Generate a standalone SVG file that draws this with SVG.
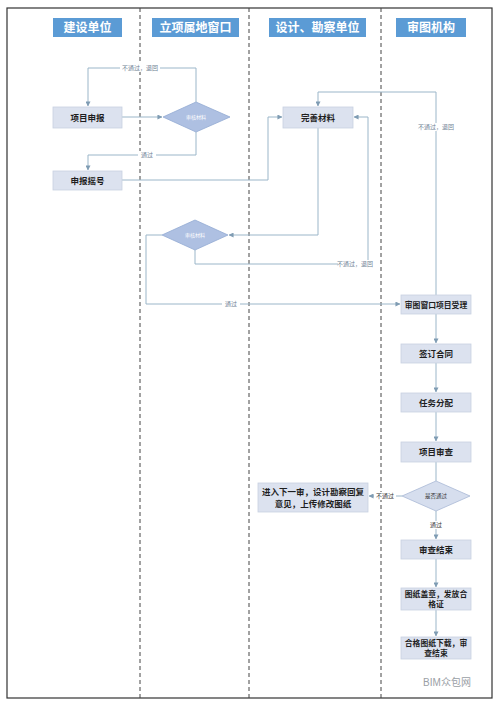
<svg xmlns="http://www.w3.org/2000/svg" width="499" height="704" viewBox="0 0 499 704">
<style>
.hdr{fill:#5b9bd5}
.ht{font-family:"Noto Sans CJK SC","Liberation Sans",sans-serif;font-size:12px;font-weight:bold;fill:#fff;text-anchor:middle}
.box{fill:#dce2ef;stroke:#c9d1e1;stroke-width:0.8}
.bt{font-family:"Noto Sans CJK SC","Liberation Sans",sans-serif;font-size:8.5px;font-weight:bold;fill:#1e1e1e;text-anchor:middle}
.bs{font-family:"Noto Sans CJK SC","Liberation Sans",sans-serif;font-size:7.8px;font-weight:bold;fill:#1e1e1e;text-anchor:middle}
.dia{fill:#aec0e2;stroke:#93abd3;stroke-width:0.8}
.dt{font-family:"Noto Sans CJK SC","Liberation Sans",sans-serif;font-size:5px;fill:#fff;text-anchor:middle}
.dt2{font-family:"Noto Sans CJK SC","Liberation Sans",sans-serif;font-size:5.5px;fill:#333;text-anchor:middle}
.lane{stroke:#444;stroke-width:1;stroke-dasharray:4,3}
.c{fill:none;stroke:#9bb6c9;stroke-width:1}
.lb{font-family:"Noto Sans CJK SC","Liberation Sans",sans-serif;font-size:6px;fill:#6e8294;text-anchor:middle}
.lbd{font-family:"Noto Sans CJK SC","Liberation Sans",sans-serif;font-size:6px;fill:#333;text-anchor:middle}
</style>
<defs>
<marker id="ah" viewBox="0 0 6 6" refX="5.5" refY="3" markerWidth="5" markerHeight="5" orient="auto" markerUnits="userSpaceOnUse">
<path d="M0,0 L6,3 L0,6 z" fill="#7f9cb3"/>
</marker>
</defs>
<rect x="0" y="0" width="499" height="704" fill="#fff"/>
<rect x="7" y="8" width="485" height="690" fill="none" stroke="#333" stroke-width="1.2"/>
<g id="lanes">
<line class="lane" x1="140" y1="8" x2="140" y2="698"/>
<line class="lane" x1="249" y1="8" x2="249" y2="698"/>
<line class="lane" x1="381" y1="8" x2="381" y2="698"/>
</g>
<g id="headers">
<rect class="hdr" x="53" y="18" width="69" height="19"/>
<text class="ht" x="87.5" y="32">建设单位</text>
<rect class="hdr" x="152" y="18" width="87" height="19"/>
<text class="ht" x="195.5" y="32">立项属地窗口</text>
<rect class="hdr" x="269" y="18" width="97" height="19"/>
<text class="ht" x="317.5" y="32">设计、勘察单位</text>
<rect class="hdr" x="396" y="18" width="70" height="19"/>
<text class="ht" x="431" y="32">审图机构</text>
</g>
<g id="connectors">
<path class="c" d="M196,102 V68 H88 V106" marker-end="url(#ah)"/>
<path class="c" d="M122,117 H162" marker-end="url(#ah)"/>
<path class="c" d="M196,132 V155 H88 V170" marker-end="url(#ah)"/>
<path class="c" d="M122,180 H268 V117 H282" marker-end="url(#ah)"/>
<path class="c" d="M318,128 V235 H229" marker-end="url(#ah)"/>
<path class="c" d="M195,250 V264 H368 V117 H354" marker-end="url(#ah)"/>
<path class="c" d="M162,235 H146 V304 H400" marker-end="url(#ah)"/>
<path class="c" d="M436,295 V92 H318 V106" marker-end="url(#ah)"/>
<path class="c" d="M436,314 V343" marker-end="url(#ah)"/>
<path class="c" d="M436,363 V392" marker-end="url(#ah)"/>
<path class="c" d="M436,412 V441" marker-end="url(#ah)"/>
<path class="c" d="M436,462 V481"/>
<path class="c" d="M402,496 H369" marker-end="url(#ah)"/>
<path class="c" d="M436,511 V539" marker-end="url(#ah)"/>
<path class="c" d="M436,559 V587" marker-end="url(#ah)"/>
<path class="c" d="M436,610 V636" marker-end="url(#ah)"/>
<rect x="120" y="64" width="40" height="8" fill="#fff"/>
<text class="lb" x="140" y="70">不通过，退回</text>
<rect x="138" y="151" width="18" height="8" fill="#fff"/>
<text class="lb" x="147" y="157">通过</text>
<rect x="338" y="260" width="40" height="8" fill="#fff"/>
<text class="lb" x="355" y="266">不通过，退回</text>
<rect x="222" y="300" width="18" height="8" fill="#fff"/>
<text class="lb" x="231" y="306">通过</text>
<rect x="416" y="123" width="40" height="8" fill="#fff"/>
<text class="lb" x="436" y="129">不通过，退回</text>
<rect x="374" y="492" width="22" height="8" fill="#fff"/>
<text class="lbd" x="385" y="498">不通过</text>
<rect x="427" y="521" width="18" height="8" fill="#fff"/>
<text class="lbd" x="436" y="527">通过</text>
</g>
<g id="n1"><rect class="box" x="53" y="107" width="69" height="21"/><text class="bt" x="87.5" y="120.5">项目申报</text></g>
<g id="d1"><polygon class="dia" points="163,117 196,102 230,117 196,132"/><text class="dt" x="196" y="119">审核材料</text></g>
<g id="n2"><rect class="box" x="53" y="171" width="69" height="19"/><text class="bt" x="87.5" y="183.5">申报摇号</text></g>
<g id="n3"><rect class="box" x="283" y="107" width="70" height="21"/><text class="bt" x="318" y="120.5">完善材料</text></g>
<g id="d2"><polygon class="dia" points="162,235 195,220 228,235 195,250"/><text class="dt" x="195" y="237">审核材料</text></g>
<g id="n4"><rect class="box" x="401" y="295" width="70" height="19"/><text class="bs" x="436" y="307.5">审图窗口项目受理</text></g>
<g id="n5"><rect class="box" x="401" y="344" width="70" height="19"/><text class="bt" x="436" y="356.5">签订合同</text></g>
<g id="n6"><rect class="box" x="401" y="393" width="70" height="19"/><text class="bt" x="436" y="405.5">任务分配</text></g>
<g id="n7"><rect class="box" x="401" y="442" width="70" height="20"/><text class="bt" x="436" y="455">项目审查</text></g>
<g id="d3"><polygon class="dia" points="402,496 436,481 470,496 436,511" style="fill:#d6deee;stroke:#a9b9d6"/><text class="dt2" x="436" y="498">是否通过</text></g>
<g id="n8"><rect class="box" x="258" y="483" width="110" height="29"/><text class="bt" x="313" y="495">进入下一审，设计勘察回复</text><text class="bt" x="313" y="507">意见，上传修改图纸</text></g>
<g id="n9"><rect class="box" x="401" y="540" width="70" height="19"/><text class="bt" x="436" y="552.5">审查结束</text></g>
<g id="n10"><rect class="box" x="401" y="588" width="70" height="22"/><text class="bs" x="436" y="597">图纸盖章，发放合</text><text class="bs" x="436" y="607">格证</text></g>
<g id="n11"><rect class="box" x="401" y="637" width="70" height="22"/><text class="bs" x="436" y="646">合格图纸下载，审</text><text class="bs" x="436" y="656">查结束</text></g>
<g id="watermark">
<text x="447" y="686" font-family="'Liberation Sans','Noto Sans CJK SC',sans-serif" font-size="10" fill="#9aa0a6" text-anchor="middle">BIM众包网</text>
</g>
</svg>
